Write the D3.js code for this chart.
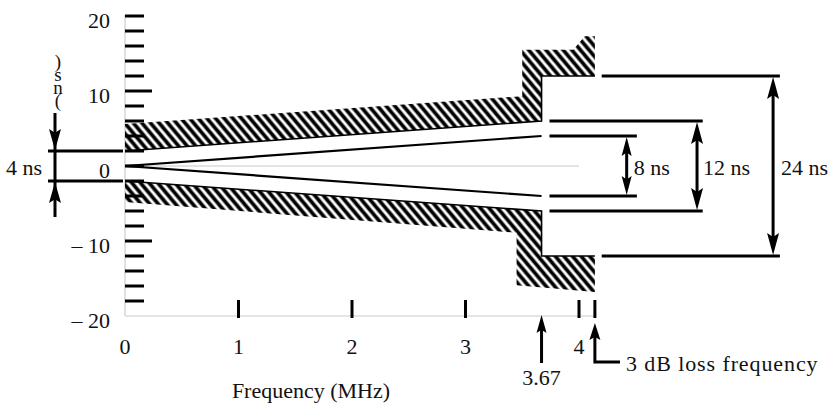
<!DOCTYPE html>
<html><head><meta charset="utf-8">
<script src="https://cdn.jsdelivr.net/npm/d3@7/dist/d3.min.js"></script>
<style>
html,body{margin:0;padding:0;background:#fff;}
</style></head>
<body><svg id="c" width="832" height="407"></svg>
<script>
// ---- data ----
const yTickValues = [-18,-16,-14,-12,-10,-8,-6,-4,-2,0,2,4,6,8,10,12,14,16,18,20];
const yLongTicks = [10,-10];
const yLabelValues = [20,10,0,-10,-20];
const yLabelTexts = ["20","10","0","\u2013 10","\u2013 20"];
const xTickValues = [1,2,3,4,4.14];
const xLabelValues = [0,1,2,3,4];
const xLabelTexts = ["0","1","2","3","4"];
const centerUpper = [[0,0],[3.67,4]];
const centerLower = [[0,0],[3.67,-4]];
const upperLimit = [[0,2],[3.67,6],[3.67,12],[4.14,12]];
const upperOuter = [[4.14,17.3],[4.05,17.3],[3.95,15.5],[3.5,15.5],[3.5,9.3],[0,5.6]];
const lowerLimit = [[0,-2],[3.67,-6],[3.67,-12],[4.14,-12]];
const lowerOuter = [[4.14,-16.8],[3.45,-15.9],[3.45,-8.9],[0,-4.8]];
const dimLabels = ["8 ns","12 ns","24 ns"];
const dimHalf = [4,6,12];
const dimX0 = [3.74,3.74,4.2];
const dimX1 = [4.51,5.09,5.77];
const dimArrowX = [4.42,5.04,5.71];
const markerFreqs = [3.67,4.14];
const markerLabels = ["3.67","3 dB loss frequency"];
const yTitle = ")sn(";

// ---- scales ----
const FONT = "'Liberation Serif', 'Times New Roman', Times, 'DejaVu Serif', serif";
const svg = d3.select("#c");
const x = d3.scaleLinear().domain([0,4]).range([125,579]);
const y = d3.scaleLinear().domain([-20,20]).range([316,16]);
const line = d3.line().x(d=>x(d[0])).y(d=>y(d[1]));
function txt(sel){ return sel.attr("font-family",FONT).attr("font-size",22).attr("fill","#111"); }

// hatch pattern
const defs = svg.append("defs");
const pat = defs.append("pattern").attr("id","hatch").attr("patternUnits","userSpaceOnUse")
  .attr("width",6.6).attr("height",40).attr("patternTransform","rotate(-40)");
pat.append("line").attr("x1",3.3).attr("x2",3.3).attr("y1",0).attr("y2",40)
  .attr("stroke","#000").attr("stroke-width",3.7);

// gray axes
svg.append("line").attr("x1",x(0)).attr("x2",x(0)).attr("y1",y(20)-1).attr("y2",y(-20))
  .attr("stroke","#ccc").attr("stroke-width",1.2);
svg.append("line").attr("x1",x(0)).attr("x2",x(4.14)).attr("y1",y(-20)).attr("y2",y(-20))
  .attr("stroke","#ccc").attr("stroke-width",1.2);
svg.append("line").attr("x1",x(0)).attr("x2",x(4.0)).attr("y1",y(0)).attr("y2",y(0))
  .attr("stroke","#bbb").attr("stroke-width",0.8);

// hatched regions
[[upperLimit,upperOuter],[lowerLimit,lowerOuter]].forEach(([lim,out])=>{
  svg.append("path").attr("d",line(lim.concat(out))+"Z").attr("fill","url(#hatch)");
  svg.append("path").attr("d",line(lim)).attr("fill","none").attr("stroke","#000").attr("stroke-width",1.6);
});

// center lines
[centerUpper,centerLower].forEach(c=>{
  svg.append("path").attr("d",line(c)).attr("fill","none").attr("stroke","#000").attr("stroke-width",2.2);
});

// y ticks
svg.append("g").selectAll("line").data(yTickValues).join("line")
  .attr("x1",x(0)).attr("x2",d=>yLongTicks.includes(d)?x(0)+27:x(0)+19)
  .attr("y1",d=>y(d)).attr("y2",d=>y(d)).attr("stroke","#000").attr("stroke-width",3);
// y labels
txt(svg.append("g").selectAll("text").data(yLabelValues).join("text"))
  .attr("x",110).attr("y",d=>y(d)+12).attr("text-anchor","end").text((d,i)=>yLabelTexts[i]);

// x ticks
svg.append("g").selectAll("line").data(xTickValues).join("line")
  .attr("x1",d=>x(d)).attr("x2",d=>x(d)).attr("y1",y(-20)-16).attr("y2",y(-20)+2)
  .attr("stroke","#000").attr("stroke-width",3);
txt(svg.append("g").selectAll("text").data(xLabelValues).join("text"))
  .attr("x",d=>x(d)).attr("y",354).attr("text-anchor","middle").text((d,i)=>xLabelTexts[i]);
txt(svg.append("text")).attr("x",311).attr("y",398).attr("text-anchor","middle").text("Frequency (MHz)");

// y-axis title: glyphs stacked upright in one vertical text run
txt(svg.append("text")).attr("font-size",19)
  .attr("x",58).attr("y",51)
  .style("writing-mode","vertical-rl").style("text-orientation","upright")
  .attr("letter-spacing","-8px")
  .text(yTitle);

function head(xt,yt,dir,L,w){ // dir: +1 pointing down, -1 pointing up
  const b = yt - dir*L, n = yt - dir*L*0.82;
  return `M${xt},${yt}L${xt-w},${b}L${xt},${n}L${xt+w},${b}Z`;
}

// dimension lines at right
dimLabels.forEach((lab,i)=>{
  const h = dimHalf[i];
  [h,-h].forEach(v=>{
    svg.append("line").attr("x1",x(dimX0[i])).attr("x2",x(dimX1[i])).attr("y1",y(v)).attr("y2",y(v))
      .attr("stroke","#000").attr("stroke-width",2.8);
  });
  const ax = x(dimArrowX[i]);
  const L = i===0?19:22, w = i===0?5:6;
  svg.append("line").attr("x1",ax).attr("x2",ax).attr("y1",y(h)+L*0.8).attr("y2",y(-h)-L*0.8)
    .attr("stroke","#000").attr("stroke-width",3);
  svg.append("path").attr("d",head(ax,y(h)+1,-1,L,w)).attr("fill","#000");
  svg.append("path").attr("d",head(ax,y(-h)-1,1,L,w)).attr("fill","#000");
  txt(svg.append("text")).attr("x",ax+(i===0?7:i===1?6:8)).attr("y",y(0)+9).text(lab);
});

// left 4 ns indicator
[2,-2].forEach(v=>{
  svg.append("line").attr("x1",48).attr("x2",123).attr("y1",y(v)).attr("y2",y(v))
    .attr("stroke","#000").attr("stroke-width",2.8);
});
svg.append("line").attr("x1",55).attr("x2",55).attr("y1",113).attr("y2",217).attr("stroke","#000").attr("stroke-width",3);
svg.append("path").attr("d",head(55,y(2)-1,1,21,6)).attr("fill","#000");
svg.append("path").attr("d",head(55,y(-2)+1,-1,21,6)).attr("fill","#000");
txt(svg.append("text")).attr("x",6).attr("y",y(0)+9).text("4 ns");

// frequency markers below axis
const mx0 = x(markerFreqs[0]);
svg.append("line").attr("x1",mx0).attr("x2",mx0).attr("y1",328).attr("y2",363).attr("stroke","#000").attr("stroke-width",3);
svg.append("path").attr("d",head(mx0,315,-1,18,5)).attr("fill","#000");
txt(svg.append("text")).attr("x",mx0).attr("y",385).attr("text-anchor","middle").text(markerLabels[0]);

const mx1 = x(markerFreqs[1]);
svg.append("path").attr("d",`M${mx1},336V362H620`).attr("fill","none").attr("stroke","#000").attr("stroke-width",3);
svg.append("path").attr("d",head(mx1,323,-1,17,5.5)).attr("fill","#000");
txt(svg.append("text")).attr("x",626).attr("y",371).attr("letter-spacing","0.9px").text(markerLabels[1]);
</script></body></html>
